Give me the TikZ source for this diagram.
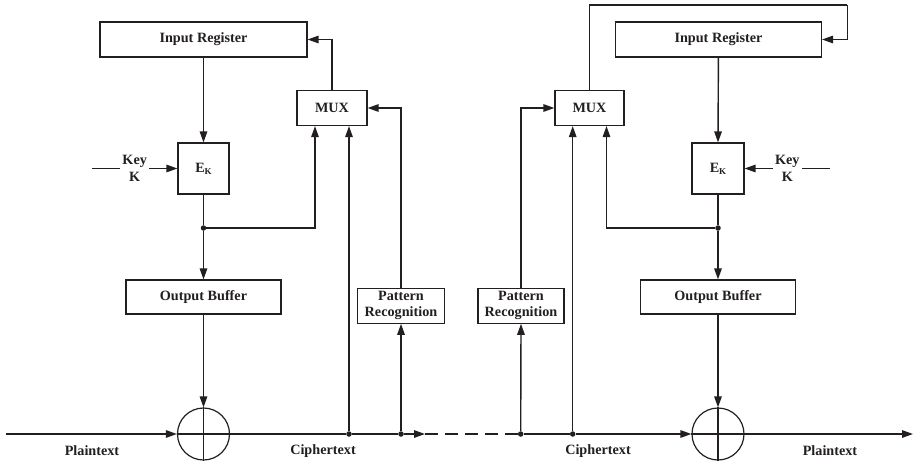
\documentclass[tikz,border=0pt]{standalone}
\usepackage{fontspec}
\setmainfont{Liberation Serif}
\usetikzlibrary{arrows.meta}
\definecolor{ink}{RGB}{35,31,32}
\begin{document}
\begin{tikzpicture}[x=1pt,y=-1pt,
  every node/.style={font=\fontsize{14.2}{17}\selectfont\bfseries, text=ink},
  box/.style={draw=ink, line width=1.2pt, fill=white, inner sep=0pt, align=center},
  flow/.style={draw=ink, line width=1.4pt, -{Triangle[length=11pt,width=7.5pt]}},
  wire/.style={draw=ink, line width=1.4pt},
  xorgate/.style={circle, draw=ink, line width=1.2pt, minimum size=52pt, inner sep=0pt},
  junction/.style={circle, fill=ink, minimum size=5.5pt, inner sep=0pt},
  lbl/.style={align=center, inner sep=0pt},
  keylbl/.style={fill=white, inner xsep=2.5pt, inner ysep=0pt, align=center}]
\useasboundingbox (0,0) rectangle (916,464);

% ---------- encryption side ----------
\node[box, minimum width=207pt, minimum height=35pt] (irL) at (203.5,39.5) {Input Register};
\node[box, minimum width=51pt, minimum height=51pt] (ekL) at (203.5,168.5) {E\raisebox{-0.35ex}{\fontsize{9}{9}\selectfont K}};
\node[box, minimum width=70pt, minimum height=35pt] (muxL) at (332,108) {MUX};
\node[box, minimum width=155pt, minimum height=34pt] (obL) at (203.5,297) {Output Buffer};
\node[box, minimum width=87pt, minimum height=35pt] (prL) at (401,305.7) {Pattern\\[-1pt]Recognition};
\node[xorgate] (xorL) at (203.5,434) {};

\node[junction] (dL) at (203.5,228) {};
\node[junction] (cdL) at (349,434) {};
\node[junction] (pdL) at (401,434) {};
\coordinate (keyL) at (92,168.5);
\coordinate (startL) at (6,434);
\coordinate (tipL) at (425,434);

\draw[flow] (irL) -- (ekL.north);
\draw[flow] (keyL) -- node[keylbl]{Key\\K} (ekL.west);
\draw[wire] (ekL.south) -- (dL);
\draw[flow] (dL) -- (obL.north);
\draw[flow] (dL) -| ([xshift=-17pt]muxL.south);
\draw[flow] (muxL.north) |- (irL.east);
\draw[flow] (cdL) -- (cdL |- muxL.south);
\draw[flow] (prL.north) |- (muxL.east);
\draw[flow] (pdL) -- (prL.south);
\draw[flow] (obL.south) -- (xorL.north);
\draw[line width=1.2pt, ink] (xorL.north) -- (xorL.south) (xorL.west) -- (xorL.east);

\draw[flow] (startL) -- (xorL.west);
\draw[wire] (xorL.east) -- (cdL) -- (pdL);
\draw[flow] (pdL) -- (tipL);

\node[lbl] at (92,451) {Plaintext};
\node[lbl] at (323,451) {Ciphertext};

% ---------- decryption side ----------
\node[box, minimum width=206pt, minimum height=35pt] (irR) at (718.5,39.5) {Input Register};
\node[box, minimum width=52pt, minimum height=51pt] (ekR) at (718,168.5) {E\raisebox{-0.35ex}{\fontsize{9}{9}\selectfont K}};
\node[box, minimum width=69pt, minimum height=35pt] (muxR) at (589.5,108) {MUX};
\node[box, minimum width=155pt, minimum height=34pt] (obR) at (718,297) {Output Buffer};
\node[box, minimum width=86pt, minimum height=35pt] (prR) at (521,305.7) {Pattern\\[-1pt]Recognition};
\node[xorgate] (xorR) at (718,434) {};

\node[junction] (dR) at (718,228) {};
\node[junction] (pdR) at (520.7,434) {};
\node[junction] (cdR) at (572.7,434) {};
\coordinate (keyR) at (830,168.5);
\coordinate (loopR) at (847.3,5);
\coordinate (endR) at (913,434);

\draw[wire, dash pattern=on 13pt off 7pt] (tipL) -- (pdR);
\draw[wire] (pdR) -- (cdR);
\draw[flow] (cdR) -- (xorR.west);
\draw[flow] (xorR.east) -- (endR);

\draw[flow] (irR) -- (ekR.north);
\draw[flow] (keyR) -- node[keylbl]{Key\\K} (ekR.east);
\draw[wire] (ekR.south) -- (dR);
\draw[flow] (dR) -- (obR.north);
\draw[flow] (dR) -| ([xshift=17pt]muxR.south);
\draw[flow] (cdR) -- (cdR |- muxR.south);
\draw[flow] (pdR) -- (prR.south);
\draw[flow] (prR.north) |- (muxR.west);
\draw[wire] (muxR.north) |- (loopR);
\draw[flow] (loopR) |- (irR.east);
\draw[flow] (obR.south) -- (xorR.north);
\draw[line width=1.2pt, ink] (xorR.north) -- (xorR.south) (xorR.west) -- (xorR.east);

\node[lbl] at (598,451) {Ciphertext};
\node[lbl] at (830,451) {Plaintext};
\end{tikzpicture}
\end{document}
